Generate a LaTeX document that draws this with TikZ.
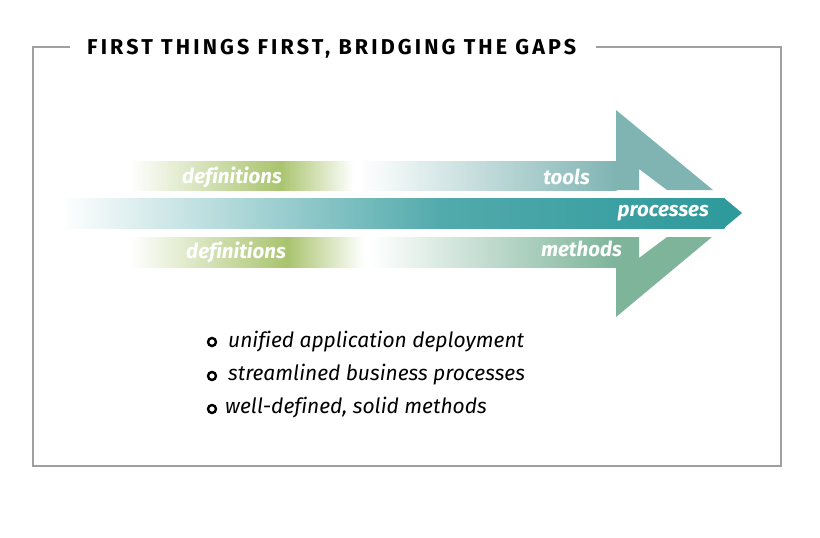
\documentclass[tikz,border=0pt]{standalone}
\usepackage{fontspec}
\setmainfont{Fira Sans}[Ligatures=NoCommon]
\definecolor{teala}{HTML}{7FB4B3}
\definecolor{tealb}{HTML}{2F9A9C}
\definecolor{tealm}{HTML}{52AAAC}
\definecolor{greenb}{HTML}{7DB49A}
\definecolor{leaf}{HTML}{A9C46E}
\definecolor{framegray}{HTML}{A0A0A0}
\tikzset{
  lbl/.style={text=white,font=\fontsize{20.5}{20}\selectfont\bfseries\itshape,inner sep=0pt},
  item/.style={anchor=west,font=\fontsize{21}{21}\selectfont\itshape,inner sep=0pt},
  dot/.style={circle,draw=black,line width=2.4pt,minimum size=8pt,inner sep=0pt}
}
\begin{document}
\begin{tikzpicture}[x=1pt,y=-1pt,line join=miter]
\useasboundingbox (0,0) rectangle (820,538);

% frame
\draw[framegray,line width=2.6pt] (70,47) -- (33,47) -- (33,466) -- (781,466) -- (781,47) -- (596,47);
\node[anchor=west,inner sep=0pt,font=\fontsize{21.5}{21}\selectfont\bfseries\addfontfeatures{LetterSpace=14.5}] (title) at (87,49)
  {FIRST THINGS FIRST, BRIDGING THE GAPS};

% green parts
\shade[left color=white,right color=leaf] (130,161) rectangle (280,190);
\shade[left color=leaf,right color=white] (280,161) rectangle (354,190);
\shade[left color=white,right color=leaf] (130,237) rectangle (287,267);
\shade[left color=leaf,right color=white] (287,237) rectangle (364,267);

% upper arrow (tools)
\shade[left color=white,right color=teala] (360,161) rectangle (616.5,190);
\fill[teala] (616,161) -- (616,110) -- (713,190) -- (667,190) -- (639,169) -- (639,190) -- (616,190) -- cycle;

% lower arrow (methods)
\shade[left color=white,right color=greenb] (370,237) rectangle (616.5,267);
\fill[greenb] (616,237) -- (639,237) -- (639,258) -- (667,237) -- (712,237) -- (616,317) -- (616,267) -- cycle;

% middle arrow (processes)
\shade[left color=white,right color=tealm] (60,198) rectangle (440.5,228);
\shade[left color=tealm,right color=tealb] (440,198) rectangle (724.5,228);
\fill[tealb] (724,198) -- (742,213) -- (724,228) -- cycle;

% labels
\node[lbl] (defa) at (232,177) {definitions};
\node[lbl] (defb) at (236,252) {definitions};
\node[lbl,anchor=east] (tools) at (590,177) {tools};
\node[lbl,anchor=east] (proc) at (709,213) {processes};
\node[lbl,anchor=east] (meth) at (622,249) {methods};

% list
\node[dot] (da) at (212,342) {};
\node[dot] (db) at (212,376) {};
\node[dot] (dc) at (212,409) {};
\node[item] (ia) at (228,342) {unified application deployment};
\node[item] (ib) at (228,375) {streamlined business processes};
\node[item] (ic) at (225,408) {well-defined, solid methods};
\end{tikzpicture}
\end{document}
